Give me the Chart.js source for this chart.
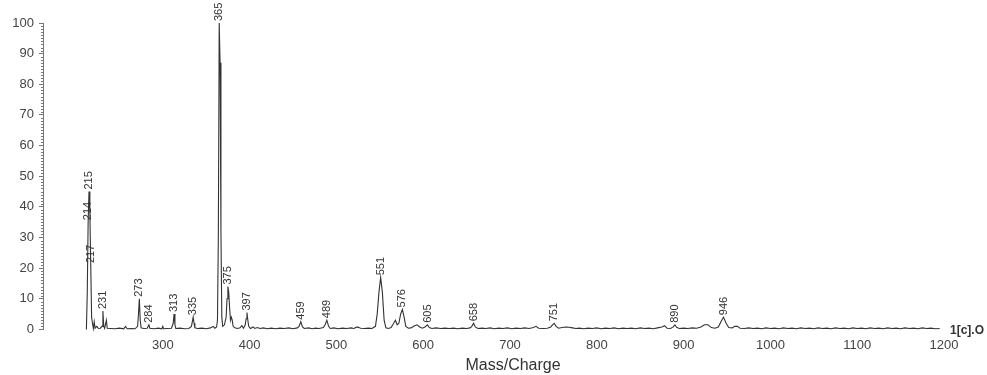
<!DOCTYPE html>
<html>
<head>
<meta charset="utf-8">
<title>Mass spectrum</title>
<script src="https://cdn.jsdelivr.net/npm/chart.js@4.4.1/dist/chart.umd.min.js"></script>
<style>
  html, body { margin: 0; padding: 0; background: #fff; }
  #wrap { width: 987px; height: 375px; }
</style>
</head>
<body>
<div id="wrap"><canvas id="spectrum" width="987" height="375"></canvas></div>
<script>
// Spectrum (m/z, relative intensity %)
const mass = [
  212, 213, 214, 215, 216, 217, 218, 219, 220, 221,
  222, 224, 226, 228, 230, 231, 232, 233, 235, 236,
  240, 245, 250, 255, 257, 259, 264, 268, 271, 272,
  273, 274, 275, 278, 282, 284, 285, 290, 295, 299,
  300, 301, 305, 310, 312, 313, 314, 315, 320, 325,
  330, 333, 335, 336, 337, 340, 345, 350, 355, 358,
  360, 362, 363, 364, 365, 366, 367, 368, 369, 371,
  373, 374, 375, 376, 377, 378, 379, 380, 381, 383,
  386, 389, 391, 393, 395, 396, 397, 398, 399, 401,
  404, 406, 409, 412, 416, 420, 425, 430, 435, 440,
  445, 450, 455, 457, 459, 461, 463, 468, 472, 476,
  480, 485, 487, 489, 491, 493, 497, 502, 507, 512,
  517, 520, 524, 528, 532, 537, 541, 545, 547, 549,
  551, 553, 555, 557, 560, 563, 566, 568, 570, 572,
  574, 576, 578, 580, 583, 586, 590, 593, 596, 599,
  602, 605, 607, 610, 615, 620, 625, 630, 635, 640,
  645, 650, 654, 656, 658, 660, 663, 668, 672, 677,
  682, 687, 692, 697, 702, 707, 712, 717, 722, 727,
  730, 733, 738, 743, 747, 749, 751, 753, 756, 760,
  764, 768, 772, 776, 780, 785, 790, 795, 800, 805,
  810, 815, 820, 825, 830, 835, 840, 845, 850, 855,
  860, 865, 870, 875, 878, 881, 885, 888, 890, 892,
  895, 900, 905, 910, 915, 920, 924, 928, 932, 936,
  940, 943, 946, 949, 952, 956, 959, 962, 965, 970,
  975, 980, 985, 990, 995, 1000, 1005, 1010, 1015, 1020,
  1025, 1030, 1035, 1040, 1045, 1050, 1055, 1060, 1065, 1070,
  1075, 1080, 1085, 1090, 1095, 1100, 1105, 1110, 1115, 1120,
  1125, 1130, 1135, 1140, 1145, 1150, 1155, 1160, 1165, 1170,
  1175, 1180, 1185, 1190, 1195
];
const intensity = [
  0, 12, 35, 45, 38, 21, 4, 2, 0.3, 2.5,
  0.4, 1, 0.3, 0.4, 1, 6, 1, 0.3, 3, 0.4,
  0.3, 0.2, 0.4, 0.2, 1, 0.2, 0.3, 0.2, 1, 5,
  10, 3, 0.5, 0.3, 0.4, 1.5, 0.4, 0.2, 0.4, 0.2,
  1, 0.2, 0.3, 0.4, 2, 5, 1.5, 0.3, 0.4, 0.2,
  0.3, 1, 4, 2, 0.5, 0.3, 0.4, 0.2, 0.5, 1,
  0.4, 0.8, 3, 30, 100, 87, 32, 4, 1, 1.5,
  4, 10, 14, 12, 7, 3, 4, 3, 1, 0.5,
  0.3, 0.5, 1.2, 0.4, 1.5, 3.5, 5.5, 3, 1, 0.3,
  0.8, 0.3, 0.6, 0.3, 0.5, 0.2, 0.4, 0.2, 0.4, 0.3,
  0.5, 0.2, 0.5, 1, 2.5, 0.8, 0.3, 0.5, 0.2, 0.4,
  0.3, 0.6, 1.5, 3, 1, 0.3, 0.5, 0.2, 0.4, 0.3,
  0.5, 0.3, 0.8, 0.4, 0.3, 0.4, 0.3, 1, 5, 12,
  17, 12, 3, 0.5, 0.3, 0.6, 2, 3, 1.5, 2,
  5, 6.5, 4, 1, 0.4, 0.5, 1.2, 1.5, 0.8, 0.4,
  0.8, 1.5, 0.6, 0.3, 0.5, 0.3, 0.4, 0.3, 0.4, 0.2,
  0.4, 0.3, 0.5, 1, 2, 0.8, 0.3, 0.4, 0.3, 0.5,
  0.2, 0.4, 0.3, 0.5, 0.2, 0.4, 0.3, 0.5, 0.3, 0.6,
  1, 0.4, 0.3, 0.4, 0.8, 1.5, 2, 1, 0.4, 0.6,
  0.8, 0.7, 0.5, 0.3, 0.4, 0.2, 0.4, 0.3, 0.5, 0.2,
  0.4, 0.3, 0.5, 0.2, 0.4, 0.3, 0.4, 0.2, 0.5, 0.3,
  0.4, 0.2, 0.5, 0.8, 1.2, 0.4, 0.3, 0.8, 1.5, 0.7,
  0.3, 0.4, 0.3, 0.5, 0.4, 0.8, 1.5, 1.5, 0.6, 0.4,
  0.8, 2.5, 4, 2, 0.6, 0.5, 1, 1, 0.4, 0.3,
  0.5, 0.3, 0.4, 0.2, 0.5, 0.3, 0.4, 0.2, 0.5, 0.3,
  0.4, 0.2, 0.5, 0.3, 0.4, 0.2, 0.5, 0.3, 0.4, 0.2,
  0.5, 0.3, 0.4, 0.2, 0.5, 0.3, 0.4, 0.2, 0.5, 0.3,
  0.4, 0.2, 0.5, 0.3, 0.4, 0.2, 0.5, 0.3, 0.4, 0.2,
  0.5, 0.3, 0.4, 0.2, 0.3
];

// peaks that carry a vertical m/z label
const peakLabels = [215, 214, 217, 231, 273, 284, 313, 335, 365, 375, 397,
                    459, 489, 551, 576, 605, 658, 751, 890, 946];

const xTickValues = [300, 400, 500, 600, 700, 800, 900, 1000, 1100, 1200];
const xTitle = 'Mass/Charge';
const traceName = '1[c].O';

const FONT = "'Liberation Sans', Arial, Helvetica, sans-serif";
const INK = '#333';

// draws minor y ticks, peak labels, trace name and the axis title
const annotations = {
    id: 'annotations',
    afterDatasetsDraw(chart) {
        const ctx = chart.ctx;
        const x = chart.scales.x;
        const y = chart.scales.y;
        ctx.save();

        // minor ticks along the y axis
        ctx.strokeStyle = '#777';
        ctx.lineWidth = 1;
        for (let v = 0; v <= 100; v++) {
            if (v % 10 === 0) continue;
            const py = Math.round(y.getPixelForValue(v)) + 0.5;
            ctx.beginPath();
            ctx.moveTo(x.left - 2, py);
            ctx.lineTo(x.left + 1, py);
            ctx.stroke();
        }

        // peak labels, reading bottom to top
        ctx.fillStyle = INK;
        ctx.font = '11px ' + FONT;
        ctx.textAlign = 'left';
        ctx.textBaseline = 'middle';
        peakLabels.forEach(m => {
            const i = mass.indexOf(m);
            if (i < 0) return;
            const px = x.getPixelForValue(m);
            const py = y.getPixelForValue(intensity[i]);
            ctx.save();
            ctx.translate(px, py - 2);
            ctx.rotate(-Math.PI / 2);
            ctx.fillText(String(m), 0, 0);
            ctx.restore();
        });

        // trace name at the end of the baseline
        ctx.font = 'bold 12px ' + FONT;
        ctx.fillText(traceName, x.right + 6, y.getPixelForValue(0) + 1);

        // axis title centred under the data range
        const cx = (x.getPixelForValue(mass[0]) + x.getPixelForValue(mass[mass.length - 1])) / 2;
        ctx.font = '16px ' + FONT;
        ctx.textAlign = 'center';
        ctx.fillText(xTitle, cx, 366);
        ctx.restore();
    }
};

const ctx = document.getElementById('spectrum').getContext('2d');
new Chart(ctx, {
    type: 'line',
    data: {
        datasets: [{
            data: mass.map((m, i) => ({ x: m, y: intensity[i] })),
            borderColor: INK,
            borderWidth: 1.1,
            pointRadius: 0,
            tension: 0,
            fill: false,
            clip: false
        }]
    },
    options: {
        responsive: false,
        animation: false,
        layout: {
            padding: { top: 23, right: 43, bottom: 14, left: 0 }
        },
        scales: {
            x: {
                type: 'linear',
                min: 162,
                max: 1200,
                afterBuildTicks: scale => {
                    scale.ticks = xTickValues.map(v => ({ value: v }));
                },
                ticks: {
                    color: '#444',
                    font: { family: FONT, size: 13 },
                    padding: 8,
                    autoSkip: false,
                    maxRotation: 0,
                    callback: v => String(v)
                },
                grid: { display: false, drawTicks: false },
                border: { display: false }
            },
            y: {
                min: 0,
                max: 100,
                afterFit: scale => { scale.width = 43; },
                ticks: {
                    stepSize: 10,
                    color: '#444',
                    font: { family: FONT, size: 13 },
                    padding: 5,
                    callback: v => String(v)
                },
                grid: {
                    drawOnChartArea: false,
                    tickLength: 4,
                    color: '#777'
                },
                border: { color: '#777' }
            }
        },
        plugins: {
            legend: { display: false },
            tooltip: { enabled: false }
        }
    },
    plugins: [annotations]
});
</script>
</body>
</html>
